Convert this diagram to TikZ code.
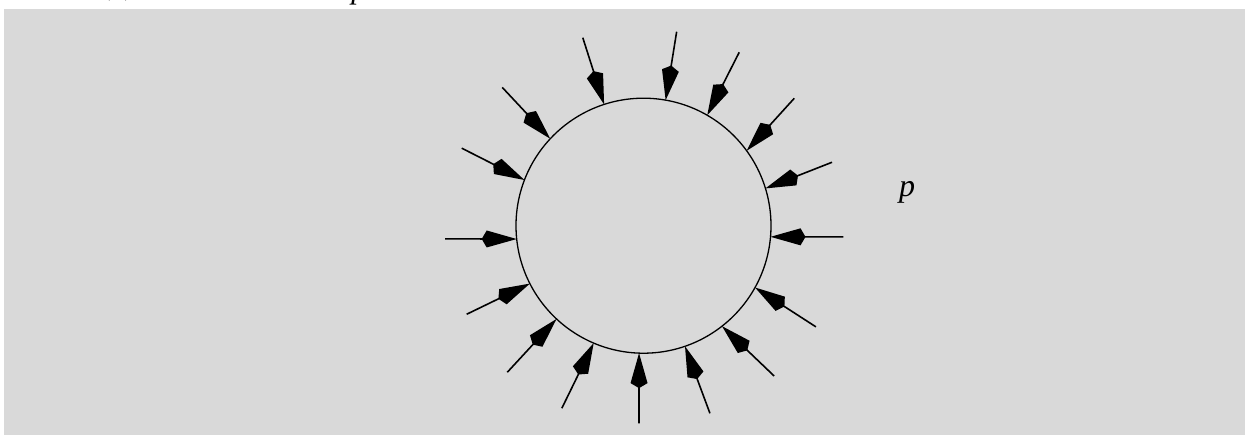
\documentclass[tikz,border=0pt]{standalone}
\usepackage{fontspec}
\setmainfont{Liberation Serif}
\usetikzlibrary{arrows.meta}

\begin{document}
\begin{tikzpicture}[x=0.5pt, y=0.5pt,
        load/.style={line width=0.8pt, -{Kite[length=17.5pt, width=8.5pt, inset=2.5pt]}},
        lbl/.style={font=\fontsize{15.5}{18}\selectfont, inner sep=0pt}]
    \useasboundingbox (0,0) rectangle (1249,435);
    \fill[gray!30] (4,0) rectangle (1245,426);
    \node[circle, draw, line width=0.65pt, minimum size=127.5pt,
          inner sep=0pt, outer sep=0pt] (ring) at (643.5,209.3) {};
    \foreach \tip/\tail/\r [count=\i] in {80.4/80.3/196.8, 60.1/61.1/198.1,
            36.5/40.2/197.4, 17.4/18.6/198.9, 355.1/356.8/200.1,
            331.1/329.6/199.9, 308.7/311.0/199.2, 289.5/289.5/199,
            268/268.7/197.7, 247/245.9/200, 227.2/227.1/200.1,
            207.2/206.6/197.8, 186/183.8/198.9, 159.6/156.9/197.6,
            137.6/135.6/197.7, 108.3/107.9/197.6} {
        \coordinate (t\i) at ([shift={(\tail:\r)}]ring.center);
        \draw[load] (t\i) -- (ring.\tip);
    }
    \node[lbl, font=\fontsize{16}{18}\selectfont\itshape] (plabel) at (907,243) {p};
    \node[lbl, anchor=base west] (caption) at (100,440) {(a)};
    \node[lbl, anchor=base, font=\fontsize{15.5}{18}\selectfont\itshape] (ptop) at (359,437) {p};
\end{tikzpicture}
\end{document}
